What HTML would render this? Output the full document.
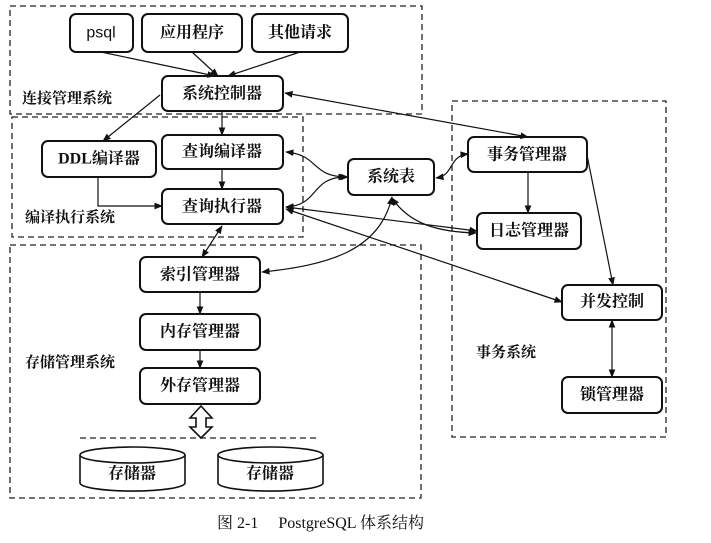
<!DOCTYPE html>
<html><head><meta charset="utf-8"><style>
html,body{margin:0;padding:0;background:#fff;}
svg{display:block}
text{font-family:"Liberation Serif","Noto Serif CJK SC","Noto Sans CJK SC",serif;font-weight:bold;fill:#111;}
</style></head><body>
<svg width="711" height="543" viewBox="0 0 711 543" xmlns="http://www.w3.org/2000/svg">
<defs>
<marker id="a" viewBox="0 0 10 10" refX="9" refY="5" markerWidth="7" markerHeight="7" orient="auto-start-reverse"><path d="M0,1 L10,5 L0,9 z" fill="#111"/></marker>
</defs>
<g fill="none" stroke="#222" stroke-width="1.3" stroke-dasharray="6,4">
<rect x="10" y="6" width="412" height="108"/>
<rect x="12" y="117" width="291" height="120"/>
<rect x="10" y="245" width="411" height="253"/>
<rect x="452" y="101" width="214" height="336"/>
<line x1="80" y1="438" x2="318" y2="438"/>
</g>
<g fill="#fff" stroke="#111" stroke-width="2">
<rect x="70" y="14" width="63" height="38" rx="6"/>
<rect x="142" y="14" width="100" height="38" rx="6"/>
<rect x="252" y="14" width="96" height="38" rx="6"/>
<rect x="162" y="76" width="121" height="35" rx="6"/>
<rect x="42" y="141" width="114" height="36" rx="6"/>
<rect x="162" y="135" width="121" height="34" rx="6"/>
<rect x="162" y="189" width="121" height="35" rx="6"/>
<rect x="348" y="159" width="86" height="36" rx="6"/>
<rect x="468" y="137" width="119" height="35" rx="6"/>
<rect x="477" y="213" width="104" height="36" rx="6"/>
<rect x="562" y="285" width="100" height="35" rx="6"/>
<rect x="562" y="377" width="100" height="36" rx="6"/>
<rect x="140" y="257" width="120" height="35" rx="6"/>
<rect x="140" y="314" width="120" height="36" rx="6"/>
<rect x="140" y="368" width="120" height="36" rx="6"/>
</g>
<g fill="#fff" stroke="#111" stroke-width="1.6">
<path d="M80,455 L80,483 A52,8 0 0 0 185,483 L185,455"/>
<ellipse cx="132.5" cy="455" rx="52.5" ry="8"/>
<path d="M218,455 L218,483 A52,8 0 0 0 323,483 L323,455"/>
<ellipse cx="270.5" cy="455" rx="52.5" ry="8"/>
<path d="M190,418 L201,406 L212,418 L206,418 L206,427 L212,427 L201,438 L190,427 L196,427 L196,418 z"/>
</g>
<g fill="none" stroke="#111" stroke-width="1.2" marker-end="url(#a)">
<line x1="101" y1="52" x2="215" y2="76"/>
<line x1="192" y1="52" x2="218" y2="76"/>
<line x1="300" y1="52" x2="228" y2="76"/>
<line x1="160" y1="95" x2="103" y2="141"/>
<line x1="222" y1="111" x2="222" y2="135"/>
<line x1="222" y1="169" x2="222" y2="189"/>
<path d="M98,177 L98,206 L162,206"/>
<line x1="200" y1="292" x2="200" y2="314"/>
<line x1="200" y1="350" x2="200" y2="368"/>
<line x1="528" y1="172" x2="528" y2="213"/>
<line x1="587" y1="155" x2="613" y2="285"/>
<line x1="612" y1="320" x2="612" y2="377" marker-start="url(#a)"/>
<line x1="285" y1="93" x2="528" y2="137" marker-start="url(#a)"/>
<path d="M286,152 C320,155 310,177 348,177" marker-start="url(#a)"/>
<path d="M346,177 C310,177 320,205 286,207" marker-start="url(#a)" marker-end="url(#a)"/>
<path d="M436,178 C455,175 448,156 468,154" marker-start="url(#a)"/>
<path d="M286,207 L477,231" marker-start="url(#a)"/>
<path d="M392,198 C410,225 440,232 476,233" marker-start="url(#a)"/>
<path d="M286,209 L562,302" marker-start="url(#a)"/>
<path d="M392,197 C380,250 330,265 262,272" marker-start="url(#a)"/>
<line x1="222" y1="226" x2="202" y2="257" marker-start="url(#a)"/>
</g>
<g font-size="16" text-anchor="middle" dominant-baseline="central">
<text x="101" y="33" style="font-family:'Liberation Sans',sans-serif;font-weight:normal">psql</text>
<text x="192" y="33">应用程序</text>
<text x="300" y="33">其他请求</text>
<text x="222" y="94">系统控制器</text>
<text x="99" y="159">DDL编译器</text>
<text x="222" y="152">查询编译器</text>
<text x="222" y="207">查询执行器</text>
<text x="391" y="177">系统表</text>
<text x="527" y="155">事务管理器</text>
<text x="529" y="231">日志管理器</text>
<text x="612" y="302">并发控制</text>
<text x="612" y="395">锁管理器</text>
<text x="200" y="275">索引管理器</text>
<text x="200" y="332">内存管理器</text>
<text x="200" y="386">外存管理器</text>
<text x="132" y="474">存储器</text>
<text x="270" y="474">存储器</text>
</g>
<g font-size="15">
<text x="22" y="103">连接管理系统</text>
<text x="25" y="222">编译执行系统</text>
<text x="25" y="367">存储管理系统</text>
<text x="476" y="357">事务系统</text>
</g>
<text x="217" y="528" font-size="16" style="font-weight:normal">图 2-1　 PostgreSQL 体系结构</text>
</svg>
</body></html>
